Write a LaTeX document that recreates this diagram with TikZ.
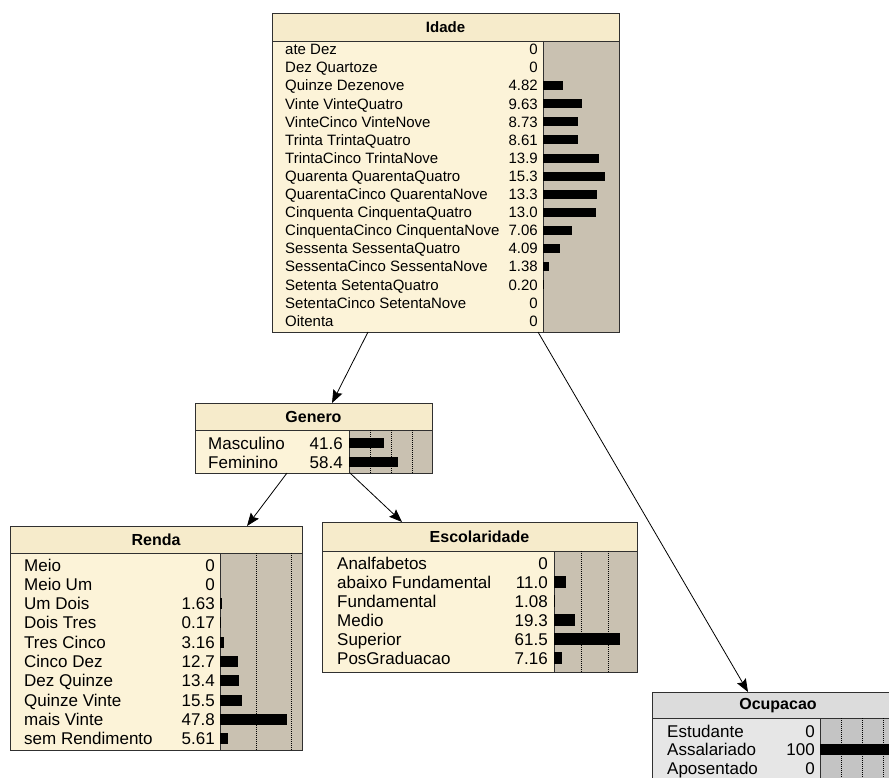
\documentclass[tikz,border=0pt]{standalone}
\usepackage{fontspec}
\setmainfont{Liberation Sans}
\usetikzlibrary{arrows.meta,calc}

\definecolor{titlefill}{HTML}{F6EBCB}
\definecolor{bodyfill}{HTML}{FCF3D8}
\definecolor{barfill}{HTML}{C9C1B1}
\definecolor{greytitle}{HTML}{DCDCDC}
\definecolor{greybody}{HTML}{E6E6E6}
\definecolor{greybar}{HTML}{C4C4C4}
\definecolor{edge}{HTML}{303030}

\begin{document}
\begin{tikzpicture}[x=1pt,y=-1pt,
  box/.style={draw=edge,line width=1pt,inner sep=0pt,outer sep=0pt,anchor=north west},
  rowtxt/.style={inner sep=0pt,anchor=base west,font=\fontsize{17}{17}\selectfont},
  rowval/.style={inner sep=0pt,anchor=base east,font=\fontsize{17}{17}\selectfont},
  smalltxt/.style={inner sep=0pt,anchor=base west,font=\fontsize{15}{15}\selectfont},
  smallval/.style={inner sep=0pt,anchor=base east,font=\fontsize{15}{15}\selectfont},
  titletxt/.style={inner sep=0pt,font=\bfseries\fontsize{16}{16}\selectfont},
  gridline/.style={black,line width=0.8pt,dash pattern=on 1pt off 1pt},
  conn/.style={black,line width=0.8pt,-{Stealth[length=13pt,width=10pt,inset=2pt]}}
]
\clip (0,0) rectangle (889,778);
\fill[white] (0,0) rectangle (889,778);

% ---------------- Idade ----------------
\fill[bodyfill] (272,14) rectangle (619,332);
\fill[titlefill] (272,14) rectangle (619,41);
\fill[barfill] (543,41) rectangle (619,332);
\draw[edge] (272,41) -- (619,41);
\draw[edge] (543,41) -- (543,332);
\foreach \lab/\val/\len [count=\i from 0] in {
  ate Dez/0/0, Dez Quartoze/0/0, Quinze Dezenove/4.82/19.5,
  Vinte VinteQuatro/9.63/39, VinteCinco VinteNove/8.73/35.4,
  Trinta TrintaQuatro/8.61/34.9, TrintaCinco TrintaNove/13.9/56.3,
  Quarenta QuarentaQuatro/15.3/62, QuarentaCinco QuarentaNove/13.3/53.9,
  Cinquenta CinquentaQuatro/13.0/52.7, CinquentaCinco CinquentaNove/7.06/28.6,
  Sessenta SessentaQuatro/4.09/16.6, SessentaCinco SessentaNove/1.38/5.6,
  Setenta SetentaQuatro/0.20/0.8, SetentaCinco SetentaNove/0/0, Oitenta/0/0}{
  \pgfmathsetmacro\yy{49.5+18.1*\i}
  \node[smalltxt] at (285,\yy+5.3) {\lab};
  \node[smallval] at (538,\yy+5.3) {\val};
  \ifdim\len pt>0pt \fill[black] (543,\yy-4.5) rectangle ++(\len,9); \fi
}
\node[box,minimum width=347,minimum height=318] (idade) at (272,14) {};
\node[titletxt,font=\bfseries\fontsize{15}{15}\selectfont] at (445.5,27.5) {Idade};

% ---------------- Genero ----------------
\fill[bodyfill] (195,403) rectangle (432,473);
\fill[titlefill] (195,403) rectangle (432,430);
\fill[barfill] (349,430) rectangle (432,473);
\draw[edge] (195,430) -- (432,430);
\draw[edge] (349,430) -- (349,473);
\foreach \gx in {370,391,412} \draw[gridline] (\gx,430) -- (\gx,473);
\foreach \lab/\val/\len [count=\i from 0] in {Masculino/41.6/34.5, Feminino/58.4/48.5}{
  \pgfmathsetmacro\yy{443+19*\i}
  \node[rowtxt] at (208,\yy+6) {\lab};
  \node[rowval] at (343,\yy+6) {\val};
  \fill[black] (349,\yy-5) rectangle ++(\len,10);
}
\node[box,minimum width=237,minimum height=70] (genero) at (195,403) {};
\node[titletxt] at (313.5,416.5) {Genero};

% ---------------- Renda ----------------
\fill[bodyfill] (10,526) rectangle (302,750);
\fill[titlefill] (10,526) rectangle (302,553);
\fill[barfill] (220,553) rectangle (302,750);
\draw[edge] (10,553) -- (302,553);
\draw[edge] (220,553) -- (220,750);
\foreach \gx in {256.5,291} \draw[gridline] (\gx,553) -- (\gx,750);
\foreach \lab/\val/\len [count=\i from 0] in {
  Meio/0/0, Meio Um/0/0, Um Dois/1.63/2.3, Dois Tres/0.17/0.3,
  Tres Cinco/3.16/4.4, Cinco Dez/12.7/17.8, Dez Quinze/13.4/18.8,
  Quinze Vinte/15.5/21.7, mais Vinte/47.8/67, sem Rendimento/5.61/7.9}{
  \pgfmathsetmacro\yy{565+19.3*\i}
  \node[rowtxt] at (24,\yy+6) {\lab};
  \node[rowval] at (215,\yy+6) {\val};
  \ifdim\len pt>0pt \fill[black] (220,\yy-5.5) rectangle ++(\len,11); \fi
}
\node[box,minimum width=292,minimum height=224] (renda) at (10,526) {};
\node[titletxt] at (156,539.5) {Renda};

% ---------------- Escolaridade ----------------
\fill[bodyfill] (322,522) rectangle (637,672);
\fill[titlefill] (322,522) rectangle (637,551);
\fill[barfill] (554,551) rectangle (637,672);
\draw[edge] (322,551) -- (637,551);
\draw[edge] (554,551) -- (554,672);
\foreach \gx in {581,608} \draw[gridline] (\gx,551) -- (\gx,672);
\foreach \lab/\val/\len [count=\i from 0] in {
  Analfabetos/0/0, abaixo Fundamental/11.0/11.8, Fundamental/1.08/1.2,
  Medio/19.3/20.7, Superior/61.5/66, PosGraduacao/7.16/7.7}{
  \pgfmathsetmacro\yy{563+19*\i}
  \node[rowtxt] at (337,\yy+6) {\lab};
  \node[rowval] at (548,\yy+6) {\val};
  \ifdim\len pt>0pt \fill[black] (554,\yy-6) rectangle ++(\len,12); \fi
}
\node[box,minimum width=315,minimum height=150] (escol) at (322,522) {};
\node[titletxt] at (479.5,536.5) {Escolaridade};

% ---------------- Ocupacao ----------------
\fill[greybody] (652,692) rectangle (904,790);
\fill[greytitle] (652,692) rectangle (904,718);
\fill[greybar] (820,718) rectangle (904,790);
\draw[edge] (652,718) -- (904,718);
\draw[edge] (820,718) -- (820,790);
\foreach \gx in {841,862,883} \draw[gridline] (\gx,718) -- (\gx,790);
\foreach \lab/\val/\len [count=\i from 0] in {
  Estudante/0/0, Assalariado/100/84, Aposentado/0/0}{
  \pgfmathsetmacro\yy{731+18.5*\i}
  \node[rowtxt] at (667,\yy+6) {\lab};
  \node[rowval] at (815,\yy+6) {\val};
  \ifdim\len pt>0pt \fill[black] (820,\yy-5.5) rectangle ++(\len,11); \fi
}
\node[box,minimum width=252,minimum height=98] (ocup) at (652,692) {};
\node[titletxt] at (778,705.5) {Ocupacao};

% ---------------- links ----------------
\draw[conn] ([xshift=96]idade.south west) -- ([xshift=137]genero.north west);
\draw[conn] ([xshift=266]idade.south west) -- ([xshift=96]ocup.north west);
\draw[conn] ([xshift=92]genero.south west) -- ([xshift=237]renda.north west);
\draw[conn] ([xshift=155]genero.south west) -- ([xshift=80]escol.north west);
\end{tikzpicture}
\end{document}
